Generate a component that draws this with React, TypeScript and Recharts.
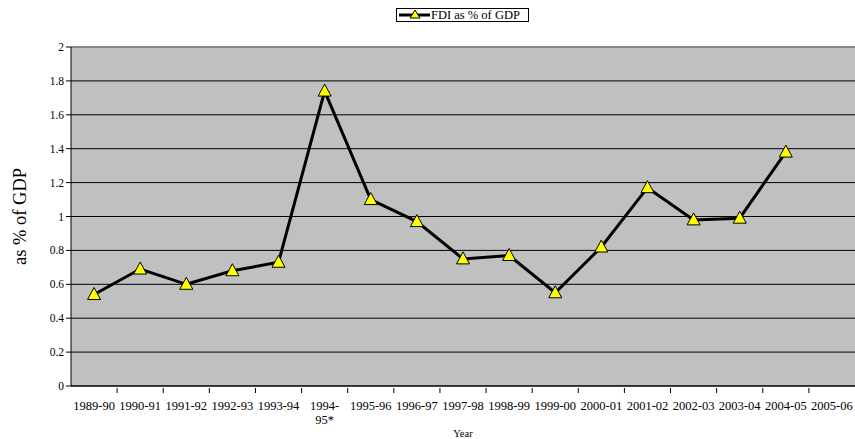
import { LineChart, Line, XAxis, YAxis, CartesianGrid, Legend, ReferenceLine } from 'recharts'

const years = [
  '1989-90', '1990-91', '1991-92', '1992-93', '1993-94', '1994-95*', '1995-96', '1996-97',
  '1997-98', '1998-99', '1999-00', '2000-01', '2001-02', '2002-03', '2003-04', '2004-05', '2005-06',
]
const fdiPct: (number | null)[] = [
  0.54, 0.69, 0.6, 0.68, 0.73, 1.74, 1.1, 0.97, 0.75, 0.77, 0.55, 0.82, 1.17, 0.98, 0.99, 1.38, null,
]
const yTicks = [0, 0.2, 0.4, 0.6, 0.8, 1, 1.2, 1.4, 1.6, 1.8, 2]

const data = years.map((y, i) => ({ year: y, fdi: fdiPct[i] }))

const FONT = 'Liberation Serif, Times New Roman, serif'
const BAND = 784 / years.length

function Triangle(props: any) {
  const { cx, cy } = props
  if (cx == null || cy == null || props.value == null) return null
  return (
    <polygon
      points={`${cx},${cy - 7} ${cx + 6.5},${cy + 5} ${cx - 6.5},${cy + 5}`}
      fill="#ffff00" stroke="#000" strokeWidth={1}
    />
  )
}

function YearTick({ x, y, payload, index }: any) {
  const v: string = payload.value
  const lines = v === '1994-95*' ? ['1994-', '95*'] : [v]
  return (
    <g>
      {index > 0 && (
        <line x1={x - BAND / 2} y1={y - 8} x2={x - BAND / 2} y2={y - 3} stroke="#000" />
      )}
      <text x={x} y={y + 14} textAnchor="middle" fontSize={12.5} style={{ fontFamily: FONT }} fill="#000">
        {lines.map((l, i) => (
          <tspan key={i} x={x} dy={i === 0 ? 0 : 14}>{l}</tspan>
        ))}
      </text>
    </g>
  )
}

function YLabel({ viewBox }: any) {
  const cy = viewBox.y + viewBox.height / 2
  const cx = 20
  return (
    <text x={cx} y={cy} transform={`rotate(-90 ${cx} ${cy})`} textAnchor="middle" dominantBaseline="central"
      fontSize={18.5} style={{ fontFamily: FONT }} fill="#000">
      as % of GDP
    </text>
  )
}

function LegendBox() {
  return (
    <svg width={134} height={15} style={{ display: 'block' }}>
      <rect x={0.5} y={0.5} width={132} height={13} fill="#fff" stroke="#000" />
      <line x1={3} y1={7} x2={34} y2={7} stroke="#000" strokeWidth={3} />
      <polygon points="19,2 24,10 14,10" fill="#ffff00" stroke="#000" strokeWidth={1} />
      <text x={35} y={11} fontSize={12.5} style={{ fontFamily: FONT }} fill="#000">FDI as % of GDP</text>
    </svg>
  )
}

export default function App() {
  return (
    <div style={{ position: 'absolute', left: 0, top: 0, background: '#fff' }}>
      <LineChart width={855} height={439} data={data} margin={{ top: 32, right: 0, bottom: 0, left: 0 }}>
        <CartesianGrid vertical={false} stroke="#000" fill="#c0c0c0" fillOpacity={1} />
        <ReferenceLine y={2} stroke="#909090" strokeWidth={1.5} />
        <XAxis
          dataKey="year"
          scale="band"
          interval={0}
          tick={<YearTick />}
          tickLine={false}
          tickSize={8}
          axisLine={{ stroke: '#000' }}
          height={53}
          label={{ value: 'Year', position: 'insideBottom', offset: 2, fontSize: 10.5, fill: '#000', style: { fontFamily: FONT } }}
        />
        <YAxis
          domain={[0, 2]}
          ticks={yTicks}
          width={71}
          tick={{ fontSize: 11.5, fill: '#000', style: { fontFamily: FONT } }}
          tickLine={{ stroke: '#000' }}
          tickSize={5}
          axisLine={{ stroke: '#000' }}
          label={<YLabel />}
        />
        <Legend verticalAlign="top" wrapperStyle={{ top: 8, left: 396, width: 134 }} content={<LegendBox />} />
        <Line
          type="linear"
          dataKey="fdi"
          stroke="#000"
          strokeWidth={3}
          dot={<Triangle />}
          activeDot={false}
          isAnimationActive={false}
        />
      </LineChart>
    </div>
  )
}
